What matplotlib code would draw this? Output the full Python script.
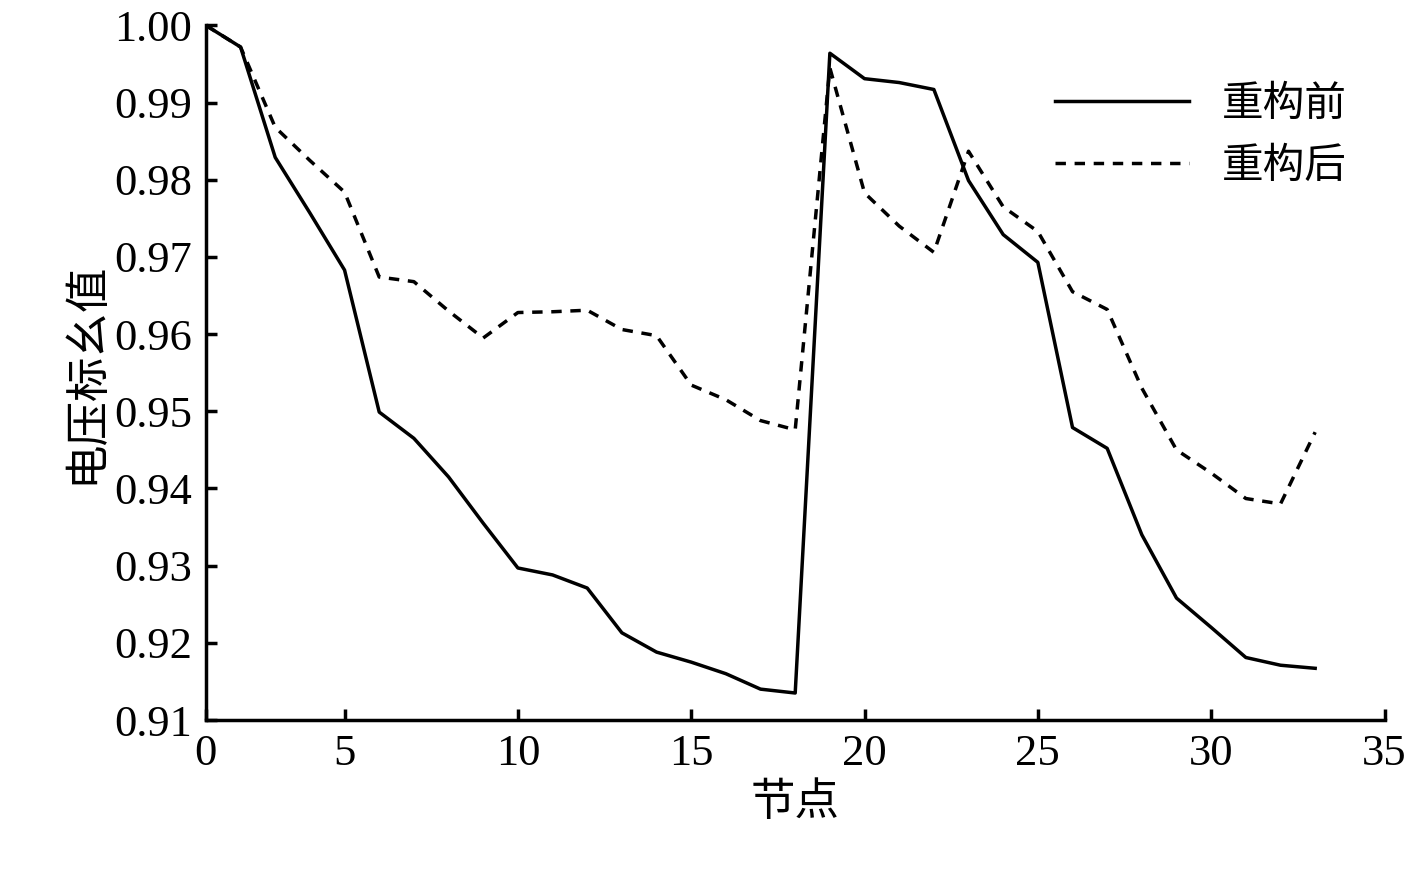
import matplotlib
matplotlib.use("Agg")
import matplotlib.pyplot as plt

nodes = list(range(1, 34))
before = [1.000, 0.9972, 0.9829, 0.9757, 0.9683, 0.9499, 0.9465, 0.9415, 0.9355, 0.9297,
          0.9288, 0.9271, 0.9213, 0.9188, 0.9175, 0.9160, 0.9140, 0.9135, 0.9964, 0.9931,
          0.9926, 0.9917, 0.9799, 0.9729, 0.9693, 0.9479, 0.9452, 0.9340, 0.9258, 0.9220,
          0.9181, 0.9171, 0.9167]
after = [1.000, 0.9972, 0.9868, 0.9825, 0.9784, 0.9674, 0.9668, 0.9630, 0.9595, 0.9628,
         0.9629, 0.9631, 0.9606, 0.9598, 0.9534, 0.9515, 0.9488, 0.9476, 0.9945, 0.9783,
         0.9740, 0.9706, 0.9837, 0.9765, 0.9733, 0.9655, 0.9632, 0.9530, 0.9450, 0.9420,
         0.9387, 0.9380, 0.9473]
xticks = [1, 5, 10, 15, 20, 25, 30, 35]
xticklabels = ['0', '5', '10', '15', '20', '25', '30', '35']
yticks = [0.91, 0.92, 0.93, 0.94, 0.95, 0.96, 0.97, 0.98, 0.99, 1.00]

plt.rcParams['font.family'] = ['Liberation Serif', 'Noto Sans CJK SC']
fig = plt.figure(figsize=(14.2, 8.77), dpi=100)
ax = fig.add_axes([0.145, 0.179, 0.83, 0.792])
ax.plot(nodes, before, color='black', lw=2.5, label='重构前')
ax.plot(nodes, after, color='black', lw=2.5, ls=(0, (3, 2.5)), label='重构后')
ax.set_xlim(1, 35)
ax.set_ylim(0.91, 1.00)
ax.set_xticks(xticks)
ax.set_xticklabels(xticklabels)
ax.set_yticks(yticks)
ax.set_yticklabels([f'{v:.2f}' for v in yticks])
for s in ['top', 'right']:
    ax.spines[s].set_visible(False)
for s in ['left', 'bottom']:
    ax.spines[s].set_linewidth(2.5)
ax.tick_params(direction='in', length=8, width=2.5, labelsize=32, pad=10)
ax.set_xlabel('节点', fontsize=32, family=['Noto Sans CJK SC'])
ax.set_ylabel('电压标幺值', fontsize=32, family=['Noto Sans CJK SC'])
leg = ax.legend(loc='upper right', frameon=False, prop={'family': 'Noto Sans CJK SC', 'size': 30},
                handlelength=3.2, bbox_to_anchor=(1.0, 0.97))
fig.savefig('out.png', dpi=100)
